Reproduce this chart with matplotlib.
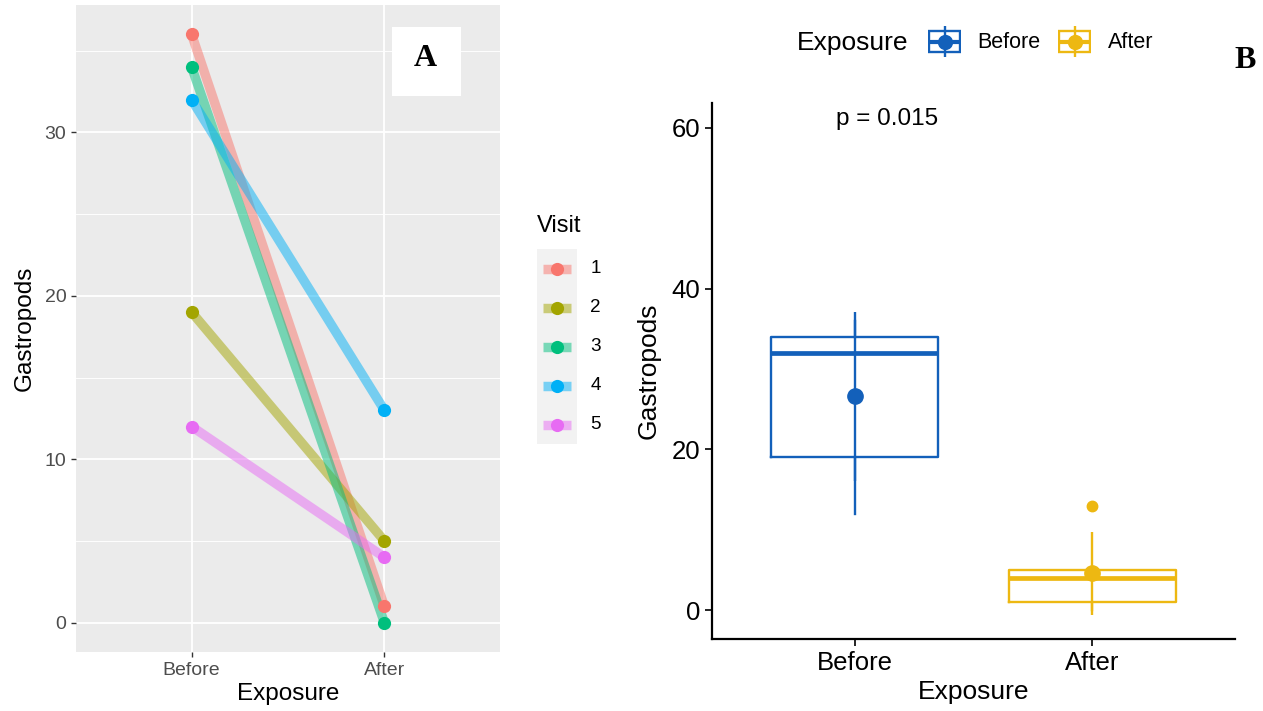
import numpy as np
import matplotlib.pyplot as plt
from matplotlib.patches import Rectangle

plt.rcParams['font.family'] = ['Liberation Sans', 'DejaVu Sans']

# Gastropod counts per visit, before and after exposure
exposure = ["Before", "After"]
visits = [1, 2, 3, 4, 5]
before = [36, 19, 34, 32, 12]
after = [1, 5, 0, 13, 4]
visit_colors = ["#F8766D", "#A3A500", "#00BF7D", "#00B0F6", "#E76BF3"]
group_colors = ["#1360BA", "#EDB812"]
p_label = "p = 0.015"

W, H = 1263, 711


def box(l, t, r, b):
    # pixel box (left, top, right, bottom) -> figure fraction rect
    return [l / W, 1 - b / H, (r - l) / W, (b - t) / H]


fig = plt.figure(figsize=(W / 100, H / 100), dpi=100)

# ---------- panel A: paired lines per visit ----------
axA = fig.add_axes(box(76, 5, 500, 652))
axA.set_facecolor("#EBEBEB")
for s in axA.spines.values():
    s.set_visible(False)
axA.set_xlim(0.4, 2.6)
axA.set_ylim(-1.8, 37.8)
axA.set_xticks([1, 2])
axA.set_xticklabels(exposure)
axA.set_yticks([0, 10, 20, 30])
axA.set_yticks([5, 15, 25, 35], minor=True)
axA.grid(which="major", color="white", lw=1.3)
axA.grid(which="minor", axis="y", color="white", lw=0.65)
axA.set_axisbelow(True)
axA.tick_params(which="major", colors="#333333", labelcolor="#4D4D4D",
                length=3.5, width=1, labelsize=14)
axA.tick_params(which="minor", length=0)

for i, v in enumerate(visits):
    axA.plot([1, 2], [before[i], after[i]], color=visit_colors[i], lw=6.8,
             alpha=0.5, solid_capstyle="butt", zorder=2)
for i, v in enumerate(visits):
    axA.plot([1, 2], [before[i], after[i]], "o", color=visit_colors[i],
             ms=9.5, mec="none", zorder=3)

axA.set_xlabel("Exposure", fontsize=17.5, labelpad=3)
axA.set_ylabel("Gastropods", fontsize=17.5, labelpad=6)

# panel tag
fig.add_artist(Rectangle((392 / W, 1 - 96 / H), 69 / W, 69 / H,
                         transform=fig.transFigure, facecolor="white",
                         edgecolor="none", zorder=5))
fig.text(425 / W, 1 - 59 / H, "A", fontsize=23, fontweight="bold",
         family="Liberation Serif", ha="center", va="center", zorder=6)

# legend for visits
fig.text(537 / W, 1 - 226 / H, "Visit", fontsize=17, ha="left", va="center")
legA = fig.add_axes(box(537, 249, 577, 444))
legA.set_facecolor("#F2F2F2")
for s in legA.spines.values():
    s.set_visible(False)
legA.set_xticks([])
legA.set_yticks([])
legA.set_xlim(0, 1)
legA.set_ylim(0, len(visits))
for i, v in enumerate(visits):
    y = len(visits) - i - 0.5
    legA.plot([0.15, 0.85], [y, y], color=visit_colors[i], lw=6.8, alpha=0.5,
              solid_capstyle="butt")
    legA.plot(0.5, y, "o", color=visit_colors[i], ms=9.5, mec="none")
    legA.text(1.33, y, str(v), fontsize=13.6, ha="left", va="center",
              clip_on=False)

# ---------- panel B: box plots with mean +/- sd ----------
axB = fig.add_axes(box(712, 103, 1235, 639))
axB.spines["top"].set_visible(False)
axB.spines["right"].set_visible(False)
axB.spines["left"].set_linewidth(1.6)
axB.spines["bottom"].set_linewidth(1.6)
axB.set_xlim(0.4, 2.6)
axB.set_ylim(-3.56, 63.06)

groups = [np.array(before), np.array(after)]
for i, vals in enumerate(groups):
    col = group_colors[i]
    pos = i + 1
    axB.boxplot(vals, positions=[pos], widths=0.7, showcaps=False,
                manage_ticks=False,
                boxprops=dict(color=col, lw=1.7),
                whiskerprops=dict(color=col, lw=1.7),
                medianprops=dict(color=col, lw=3.4),
                flierprops=dict(marker="o", markerfacecolor=col,
                                markeredgecolor=col, markersize=7.5))
    m = vals.mean()
    sd = vals.std(ddof=1)
    axB.errorbar(pos, m, yerr=sd, fmt="o", color=col, ms=11, mec=col,
                 elinewidth=1.7, capsize=0, zorder=4)

axB.set_xticks([1, 2])
axB.set_xticklabels(exposure)
axB.set_yticks([0, 20, 40, 60])
axB.tick_params(colors="black", length=5, width=1.2, labelsize=18.5)
axB.set_xlabel("Exposure", fontsize=19, labelpad=4)
axB.set_ylabel("Gastropods", fontsize=19, labelpad=8)
axB.text(0.92, 61.1, p_label, fontsize=17.5, ha="left", va="center")

# legend for exposure groups
fig.text(797 / W, 1 - 43 / H, "Exposure", fontsize=19, ha="left", va="center")
key_boxes = [(928, 961), (1058, 1091)]
label_x = [977, 1108]
for i, name in enumerate(exposure):
    col = group_colors[i]
    l, r = key_boxes[i]
    k = fig.add_axes(box(l, 26, r, 57))
    k.axis("off")
    k.set_xlim(0, 1)
    k.set_ylim(0, 1)
    k.add_patch(Rectangle((0.04, 0.16), 0.92, 0.68, facecolor="none",
                          edgecolor=col, lw=1.7))
    k.plot([0.04, 0.96], [0.5, 0.5], color=col, lw=3.0)
    k.plot([0.5, 0.5], [0, 1], color=col, lw=1.7)
    k.plot(0.5, 0.5, "o", color=col, ms=11, mec="none")
    fig.text(label_x[i] / W, 1 - 43 / H, name, fontsize=15.5, ha="left",
             va="center")

fig.text(1245 / W, 1 - 60 / H, "B", fontsize=23, fontweight="bold",
         family="Liberation Serif", ha="center", va="center")

fig.savefig("out.png", dpi=100)
